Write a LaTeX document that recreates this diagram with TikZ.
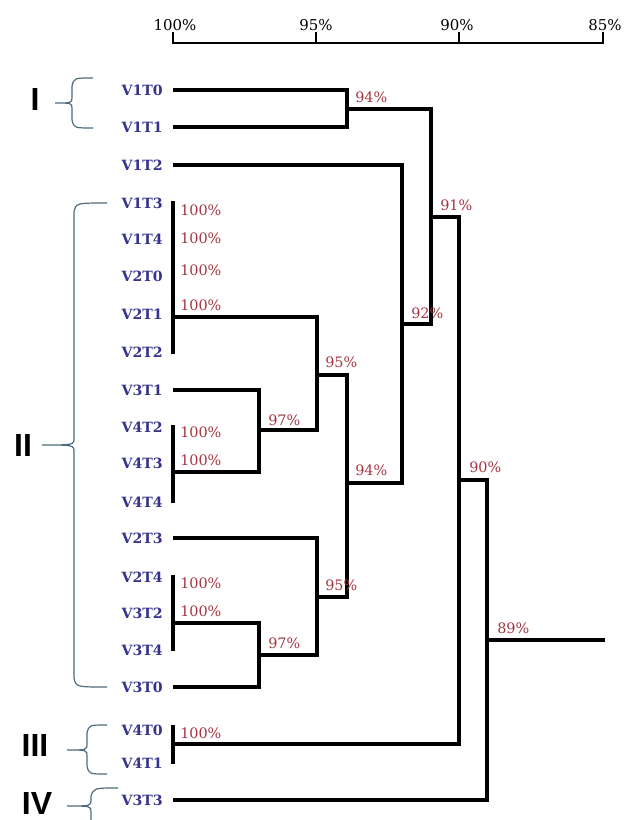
\documentclass[tikz,border=0pt]{standalone}
\usepackage{fontspec}
\setmainfont{DejaVu Serif}
\newfontfamily\romfont{Liberation Sans}
\definecolor{leafblue}{HTML}{34348C}
\definecolor{pctred}{HTML}{A33540}
\definecolor{bracegray}{HTML}{4F6B7A}
\begin{document}
\begin{tikzpicture}[x=0.75pt,y=-0.75pt,
  leaf/.style={anchor=east,text=leafblue,font=\bfseries\fontsize{10.6}{12}\selectfont,inner sep=0pt},
  pct/.style={anchor=west,text=pctred,font=\fontsize{10.8}{12}\selectfont,inner sep=0pt},
  axlab/.style={anchor=center,font=\fontsize{11.2}{13}\selectfont,inner sep=0pt},
  roman/.style={anchor=center,font=\romfont\bfseries\fontsize{24}{26}\selectfont,inner sep=0pt},
  tree/.style={line width=2.3pt,line join=miter,line cap=butt},
  brace/.style={draw=bracegray,line width=0.9pt},
]
\useasboundingbox (0,0) rectangle (624,820);
\clip (0,0) rectangle (624,820);

% ---- axis ----
\coordinate (a100) at (173,43);
\coordinate (a95) at (316,43);
\coordinate (a90) at (459,43);
\coordinate (a85) at (603,43);
\draw[line width=2pt] ([yshift=8]a100) -- (a100) -- (a85) -- ([yshift=8]a85);
\draw[line width=2pt] (a95) -- ([yshift=8]a95);
\draw[line width=2pt] (a90) -- ([yshift=8]a90);
\node[axlab] (t100) at (175,25) {100\%};
\node[axlab] (t95) at (316,25) {95\%};
\node[axlab] (t90) at (457,25) {90\%};
\node[axlab] (t85) at (605,25) {85\%};

% ---- leaves ----
\foreach \nm/\yy in {V1T0/90,V1T1/127,V1T2/165,V1T3/203,V1T4/239,V2T0/276,V2T1/314,V2T2/352,
  V3T1/390,V4T2/427,V4T3/463,V4T4/502,V2T3/538,V2T4/577,V3T2/613,V3T4/650,V3T0/687,
  V4T0/730,V4T1/763,V3T3/800}{
  \node[leaf] (n\nm) at (163,\yy) {\nm};
  \coordinate (s\nm) at (173,\yy);
}

% ---- tree ----
% cluster I (94%)
\draw[tree] (sV1T0) -- (347,90) -- (347,127) -- (sV1T1);
\draw[tree] (347,109) -- (431,109) -- (431,324) -- (402,324);
% V1T2 with cluster II (92%)
\draw[tree] (sV1T2) -- (402,165) -- (402,483) -- (347,483);
% group V1T3..V2T2
\draw[tree] (173,201) -- (173,354);
\draw[tree] (173,317) -- (317,317) -- (317,430) -- (259,430);
% V3T1 with V4T2..V4T4 (97%)
\draw[tree] (sV3T1) -- (259,390) -- (259,472) -- (173,472);
\draw[tree] (173,425) -- (173,503);
% 95% upper and lower, 94%
\draw[tree] (317,375) -- (347,375) -- (347,597) -- (317,597);
% V2T3 with lower group (95%)
\draw[tree] (sV2T3) -- (317,538) -- (317,655) -- (259,655);
\draw[tree] (173,575) -- (173,651);
\draw[tree] (173,623) -- (259,623) -- (259,687) -- (sV3T0);
% 91%, 90%
\draw[tree] (431,217) -- (459,217) -- (459,744) -- (173,744);
\draw[tree] (173,725) -- (173,764);
\draw[tree] (459,480) -- (487,480) -- (487,800) -- (sV3T3);
\coordinate (root) at (605,640);
\draw[tree] (487,640) -- (root);

% ---- percentages ----
\node[pct] (p94a) at (355,97) {94\%};
\node[pct] (p91) at (440,205) {91\%};
\node[pct] (p92) at (411,313) {92\%};
\node[pct] (p95a) at (325,362) {95\%};
\node[pct] (p97a) at (268,420) {97\%};
\node[pct] (p94b) at (355,470) {94\%};
\node[pct] (p90) at (469,467) {90\%};
\node[pct] (p95b) at (325,585) {95\%};
\node[pct] (p97b) at (268,643) {97\%};
\node[pct] (p89) at (497,628) {89\%};
\foreach \yy [count=\i] in {210,238,270,305,432,460,583,611,733}{
  \node[pct] (h\i) at (180,\yy) {100\%};
}

% ---- braces ----
\draw[brace] (93,78) .. controls (74,78) .. (72,86) -- (72,97) .. controls (72,103) .. (55,103)
  .. controls (72,103) .. (72,109) -- (72,120) .. controls (74,128) .. (93,128);
\draw[brace] (107,203) .. controls (76,203) .. (74,212) -- (74,438) .. controls (74,445) .. (42,445)
  .. controls (74,445) .. (74,452) -- (74,678) .. controls (76,687) .. (107,687);
\draw[brace] (107,725) .. controls (89,725) .. (87,733) -- (87,744) .. controls (87,750) .. (67,750)
  .. controls (87,750) .. (87,756) -- (87,766) .. controls (89,774) .. (107,774);
\draw[brace] (118,788) .. controls (94,788) .. (91,796) -- (91,800) .. controls (91,806) .. (67,806)
  .. controls (91,806) .. (91,812) -- (91,830);

\node[roman] (rI) at (35,99) {I};
\node[roman] (rII) at (23,445) {II};
\node[roman] (rIII) at (35,745) {III};
\node[roman] (rIV) at (37,803) {IV};
\end{tikzpicture}
\end{document}
